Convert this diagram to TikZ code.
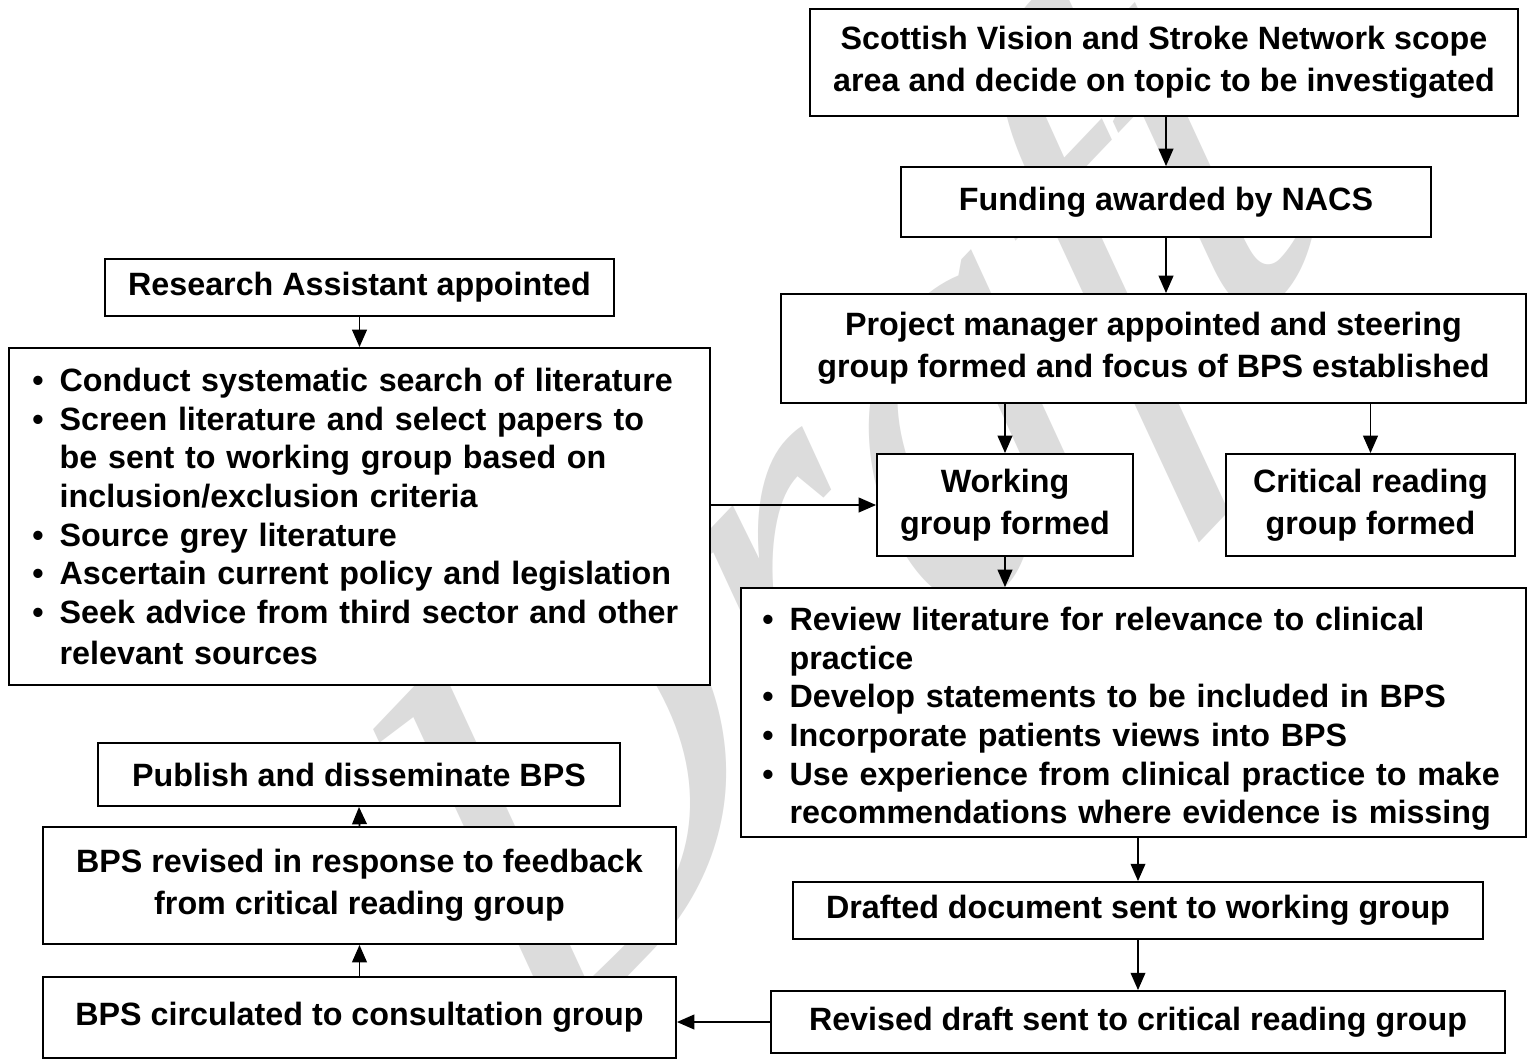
\documentclass[tikz,border=0pt]{standalone}
\usepackage{fontspec}
\setmainfont{Liberation Sans}
\newfontfamily\wmfont{Liberation Serif}
\usetikzlibrary{arrows.meta}
\definecolor{wmgrey}{RGB}{220,220,220}
\newcommand{\bl}{\makebox[20.5pt][l]{\textbullet}}
\newcommand{\ind}{\hspace*{20.5pt}}
\begin{document}
\begin{tikzpicture}[x=0.75pt,y=-0.75pt,
  font=\bfseries\fontsize{24.2pt}{31.5pt}\selectfont,
  box/.style={draw, line width=1.4pt, fill=white, align=center, inner sep=0pt},
  bulbox/.style={box, align=left, font=\bfseries\fontsize{24.2pt}{29pt}\selectfont},
  arr/.style={line width=1.4pt, -{Triangle[length=13pt,width=11pt]}},
  wmark/.style={text=wmgrey, font=\wmfont\itshape\fontsize{450pt}{450pt}\selectfont, xscale=0.8, rotate=40, inner sep=0pt}]
\useasboundingbox (0,0) rectangle (1528,1058);
\fill[white] (0,0) rectangle (1528,1058);
\node[wmark] (wmk) at (860,540) {Draft};
% right column
\node[box, minimum width=531pt, minimum height=80.25pt] (scot) at (1164,62.5)
  {Scottish Vision and Stroke Network scope\\area and decide on topic to be investigated};
\node[box, minimum width=397.5pt, minimum height=52.5pt] (fund) at (1166,202)
  {Funding awarded by NACS};
\node[box, minimum width=558.75pt, minimum height=81.75pt] (proj) at (1153.5,348.5)
  {Project manager appointed and steering\\group formed and focus of BPS established};
\node[box, minimum width=192pt, minimum height=76.5pt] (work) at (1005,505)
  {Working\\group formed};
\node[box, minimum width=216.75pt, minimum height=76.5pt] (crit) at (1370.5,505)
  {Critical reading\\group formed};
\node[bulbox, text width=556.75pt, inner xsep=16pt, minimum height=186.75pt] (rbul) at (1133.5,712.5)
  {\rule{0pt}{27pt}\bl Review literature for relevance to clinical\\
   \ind practice\\
   \bl Develop statements to be included in BPS\\
   \bl Incorporate patients views into BPS\\
   \bl Use experience from clinical practice to make\\
   \ind recommendations where evidence is missing};
\node[box, minimum width=517.5pt, minimum height=42.75pt] (drft) at (1138,910.5)
  {Drafted document sent to working group};
\node[box, minimum width=550.5pt, minimum height=46.5pt] (rev) at (1138,1022)
  {Revised draft sent to critical reading group};
% left column
\node[box, minimum width=381.75pt, minimum height=42.75pt] (ra) at (359.5,287.5)
  {Research Assistant appointed};
\node[bulbox, text width=490.75pt, inner xsep=17.5pt, minimum height=252.75pt] (lbul) at (359.5,516.5)
  {\bl Conduct systematic search of literature\\
   \bl Screen literature and select papers to\\
   \ind be sent to working group based on\\
   \ind inclusion/exclusion criteria\\
   \bl Source grey literature\\
   \bl Ascertain current policy and legislation\\
   \bl Seek advice from third sector and other\\[2pt]
   \ind relevant sources};
\node[box, minimum width=391.5pt, minimum height=47.25pt] (pub) at (359,774.5)
  {Publish and disseminate BPS};
\node[box, minimum width=474.75pt, minimum height=87.75pt] (bpsrev) at (359.5,885.5)
  {BPS revised in response to feedback\\from critical reading group};
\node[box, minimum width=474.75pt, minimum height=60.75pt] (circ) at (359.5,1017.5)
  {BPS circulated to consultation group};
% connectors
\draw[arr] (scot.south -| fund) -- (fund.north);
\draw[arr] (fund.south) -- (proj.north -| fund);
\draw[arr] (proj.south -| work) -- (work.north);
\draw[arr] (proj.south -| crit) -- (crit.north);
\draw[arr] (work.south) -- (work.south |- rbul.north);
\draw[arr] (ra.south) -- (lbul.north);
\draw[arr] (lbul.east |- work.west) -- (work.west);
\draw[arr] (drft.north |- rbul.south) -- (drft.north);
\draw[arr] (drft.south) -- (rev.north);
\draw[arr] (rev.west) -- (circ.east |- rev.west);
\draw[arr] (circ.north) -- (bpsrev.south);
\draw[arr] (bpsrev.north) -- (pub.south);
\end{tikzpicture}
\end{document}
